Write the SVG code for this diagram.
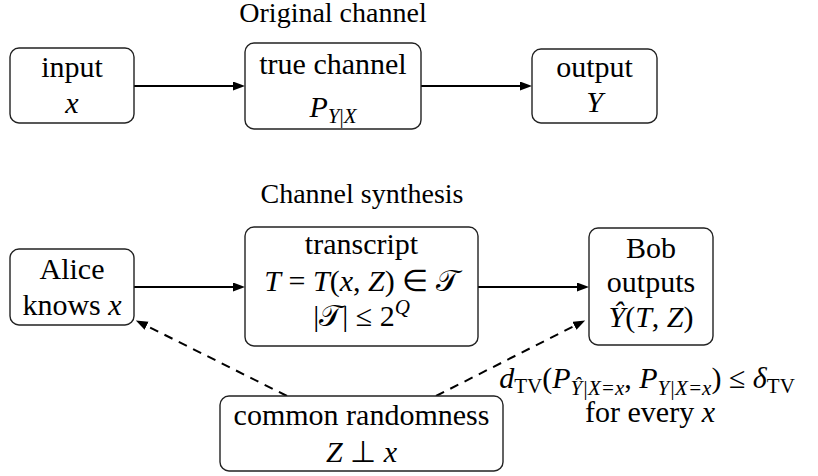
<svg xmlns="http://www.w3.org/2000/svg" width="818" height="476" viewBox="0 0 818 476">
<style>
text{fill:#000;text-anchor:middle;font-size:30px}
.title{font-size:28px}
.box{fill:#fff;stroke:#222;stroke-width:1.4}
.i{font-style:italic}
.sub{font-size:21px}
.conn{stroke:#000;stroke-width:2;fill:none}
.dash{stroke-dasharray:9 7}
</style>
<defs>
<marker id="ah" markerUnits="userSpaceOnUse" markerWidth="14" markerHeight="10" refX="4" refY="4.5" orient="auto">
<path d="M0,0 L12,4.5 L0,9 z" fill="#000"/>
</marker>
</defs>
<g font-family="Liberation Serif, Times New Roman, serif">
<text class="title" x="333" y="22">Original channel</text>
<text class="title" x="362" y="203">Channel synthesis</text>
<g id="connectors">
<line class="conn" x1="134" y1="86" x2="237" y2="86" marker-end="url(#ah)"/>
<line class="conn" x1="421" y1="86" x2="524" y2="86" marker-end="url(#ah)"/>
<line class="conn" x1="134" y1="287" x2="237" y2="287" marker-end="url(#ah)"/>
<line class="conn" x1="478" y1="287" x2="581" y2="287" marker-end="url(#ah)"/>
<line class="conn dash" x1="287" y1="396" x2="143" y2="324" marker-end="url(#ah)"/>
<line class="conn dash" x1="436" y1="396" x2="578" y2="324" marker-end="url(#ah)"/>
</g>
<g id="input">
<rect class="box" x="10" y="48" width="124" height="75" rx="9"/>
<text x="72" y="77">input</text>
<text x="72" y="113" class="i">x</text>
</g>
<g id="true-channel">
<rect class="box" x="245" y="43" width="176" height="86" rx="9"/>
<text x="333" y="74">true channel</text>
<text x="333" y="117"><tspan class="i">P</tspan><tspan class="sub i" dy="6">Y</tspan><tspan class="sub">|</tspan><tspan class="sub i">X</tspan></text>
</g>
<g id="output">
<rect class="box" x="532" y="49" width="125" height="74" rx="9"/>
<text x="594.5" y="77">output</text>
<text x="594.5" y="112" class="i">Y</text>
</g>
<g id="alice">
<rect class="box" x="10" y="249" width="124" height="76" rx="9"/>
<text x="72" y="279">Alice</text>
<text x="72" y="315">knows <tspan class="i">x</tspan></text>
</g>
<g id="transcript">
<rect class="box" x="245" y="227" width="233" height="119" rx="9"/>
<text x="361.5" y="254">transcript</text>
<text x="361.5" y="291"><tspan class="i">T</tspan> = <tspan class="i">T</tspan>(<tspan class="i">x</tspan>, <tspan class="i">Z</tspan>) ∈ 𝒯</text>
<text x="361.5" y="326">|𝒯| ≤ 2<tspan class="sub i" dy="-12">Q</tspan></text>
</g>
<g id="bob">
<rect class="box" x="589" y="228" width="124" height="117" rx="9"/>
<text x="651" y="258">Bob</text>
<text x="651" y="292">outputs</text>
<text x="651" y="327"><tspan class="i">Ŷ</tspan>(<tspan class="i">T</tspan>, <tspan class="i">Z</tspan>)</text>
</g>
<g id="common-randomness">
<rect class="box" x="220" y="396" width="283" height="75" rx="9"/>
<text x="361.5" y="425">common randomness</text>
<text x="361.5" y="462"><tspan class="i">Z</tspan> ⊥ <tspan class="i">x</tspan></text>
</g>
<g id="tv-label">
<text x="647" y="388"><tspan class="i">d</tspan><tspan class="sub" dy="5">TV</tspan><tspan dy="-5">(</tspan><tspan class="i">P</tspan><tspan class="sub i" dy="7">Ŷ|X=x</tspan><tspan dy="-7">, </tspan><tspan class="i">P</tspan><tspan class="sub i" dy="7">Y|X=x</tspan><tspan dy="-7">) ≤ </tspan><tspan class="i">δ</tspan><tspan class="sub" dy="5">TV</tspan></text>
<text x="650" y="422">for every <tspan class="i">x</tspan></text>
</g>
</g>
</svg>
